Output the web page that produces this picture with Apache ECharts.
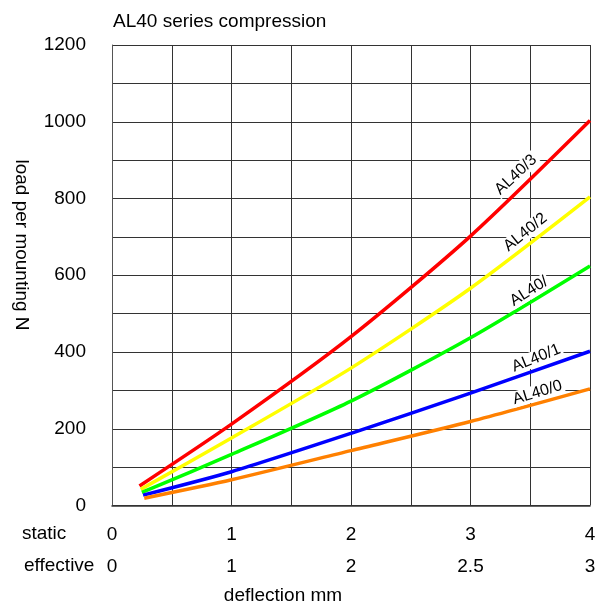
<!DOCTYPE html>
<html>
<head>
<meta charset="utf-8">
<script src="https://cdn.jsdelivr.net/npm/echarts@6/dist/echarts.min.js"></script>
<style>
html,body{margin:0;padding:0;background:#fff;}
#chart{width:600px;height:608px;}
</style>
</head>
<body>
<div id="chart"></div>
<script>
// ---- data ----
var titleText = 'AL40 series compression';
var yAxisName = 'load per mounting N';
var xAxisName = 'deflection mm';
var staticRowName = 'static';
var effectiveRowName = 'effective';
var effectiveLabels = ['0', '1', '2', '2.5', '3']; // effective deflection at static 0..4

var seriesNames = ['AL40/3', 'AL40/2', 'AL40/', 'AL40/1', 'AL40/0'];
var seriesColors = ['#ff0000', '#ffff00', '#00ff00', '#0000ff', '#ff8000'];

var al40_3 = [[0.23, 51], [1, 212], [2, 440], [3, 702], [4, 1003]];
var al40_2 = [[0.24, 42], [1, 176], [2, 358], [3, 566], [4, 804]];
var al40_g = [[0.25, 34], [1, 133], [2, 272], [3, 437], [4, 624]];
var al40_1 = [[0.26, 27], [1, 88], [2, 188], [3, 293], [4, 402]];
var al40_0 = [[0.27, 19], [1, 67], [2, 143], [3, 219], [4, 304]];
var seriesData = [al40_3, al40_2, al40_g, al40_1, al40_0];

// label anchor (static deflection, load) and angle for each curve name
var labelAnchors = [[3.38, 862], [3.46, 712], [3.49, 558], [3.55, 384], [3.56, 294]];
var labelAngles = [43, 39, 32, 22, 17];

var FONT = "'Liberation Sans', Arial, sans-serif";

var chart = echarts.init(document.getElementById('chart'), null, {renderer: 'canvas'});

var series = seriesData.map(function (d, i) {
  return {
    name: seriesNames[i],
    type: 'line',
    data: d,
    smooth: 0.25,
    symbol: 'none',
    lineStyle: {color: seriesColors[i], width: 3.5, cap: 'butt'},
    z: 3
  };
});

series.push({
  type: 'scatter',
  symbolSize: 0,
  z: 4,
  silent: true,
  itemStyle: {opacity: 1},
  data: labelAnchors.map(function (p, i) {
    return {
      value: p,
      name: seriesNames[i],
      label: {rotate: labelAngles[i]}
    };
  }),
  label: {
    show: true,
    position: 'inside',
    formatter: function (p) { return p.name; },
    fontFamily: FONT,
    fontSize: 16,
    color: '#000',
    opacity: 1,
    textBorderWidth: 0,
    backgroundColor: '#fff',
    padding: [0, 2]
  }
});

var gridColor = '#333';

chart.setOption({
  animation: false,
  backgroundColor: '#fff',
  title: {
    text: titleText,
    left: 108,
    top: 7,
    textStyle: {fontFamily: FONT, fontSize: 19, fontWeight: 'normal', color: '#000'}
  },
  grid: {left: 112, top: 45, width: 478, height: 460.5},
  xAxis: [
    {
      type: 'value', min: 0, max: 4, interval: 0.5,
      axisLine: {show: true, lineStyle: {color: '#333', width: 1.5}},
      axisTick: {show: false},
      splitLine: {show: true, lineStyle: {color: gridColor, width: 1}},
      axisLabel: {
        margin: 20,
        fontFamily: FONT, fontSize: 19, color: '#000',
        formatter: function (v) { return (v % 1 === 0) ? String(v) : ''; }
      }
    },
    {
      type: 'value', min: 0, max: 4, interval: 0.5,
      position: 'bottom', offset: 32,
      axisLine: {show: false},
      axisTick: {show: false},
      splitLine: {show: false},
      axisLabel: {
        margin: 20,
        fontFamily: FONT, fontSize: 19, color: '#000',
        formatter: function (v) { return (v % 1 === 0) ? effectiveLabels[v] : ''; }
      }
    }
  ],
  yAxis: {
    type: 'value', min: 0, max: 1200, interval: 100,
    axisLine: {show: true, lineStyle: {color: '#555', width: 1}},
    axisTick: {show: false},
    splitLine: {show: true, lineStyle: {color: gridColor, width: 1}},
    axisLabel: {
      margin: 26,
      fontFamily: FONT, fontSize: 19, color: '#000',
      formatter: function (v) { return (v % 200 === 0) ? String(v) : ''; }
    }
  },
  graphic: [
    {type: 'text', left: 22, top: 524, style: {text: staticRowName, font: '19px ' + FONT, fill: '#000'}},
    {type: 'text', left: 24, top: 556, style: {text: effectiveRowName, font: '19px ' + FONT, fill: '#000'}},
    {type: 'text', x: 283, y: 596, style: {text: xAxisName, font: '19px ' + FONT, fill: '#000', textAlign: 'center', textVerticalAlign: 'middle'}},
    {type: 'text', x: 21, y: 245, rotation: -Math.PI / 2, style: {text: yAxisName, font: '19px ' + FONT, fill: '#000', textAlign: 'center', textVerticalAlign: 'middle'}}
  ],
  series: series
});
</script>
</body>
</html>
